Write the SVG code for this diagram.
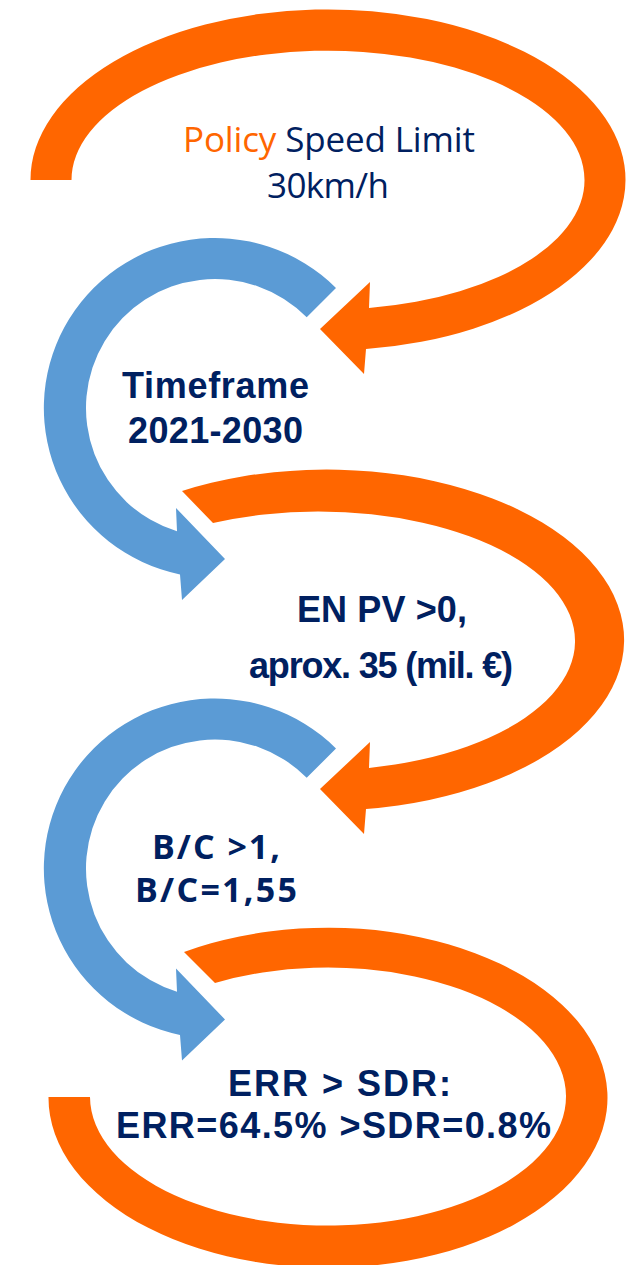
<svg xmlns="http://www.w3.org/2000/svg" width="631" height="1265" viewBox="0 0 631 1265">
<style>
.or{fill:#FF6600}
.bl{fill:#5B9BD5}
.t{fill:#002060}
.reg{font-family:"Open Sans","Noto Sans",sans-serif;font-size:35px}
.bold{font-family:"Liberation Sans",Arial,sans-serif;font-weight:bold;font-size:36px}
.semi{font-family:"Open Sans","Noto Sans",sans-serif;font-weight:bold;font-size:34px}
</style>
<rect width="631" height="1265" fill="#ffffff"/>
<g id="connectors">
<path id="arrow-policy" class="or" d="M 30.5 180 A 297.5 170.5 0 1 1 366 349 L 364 374 L 320 329 L 370 282 L 369 308 A 256.5 129.5 0 1 0 71.5 180 Z"/>
<path id="arrow-timeframe" class="bl" d="M 336 288 A 171 170 0 1 0 180 574.4 L 182 600 L 225 559 L 176 508 L 177 531.3 A 129 129 0 1 1 306.7 317.3 Z"/>
<path id="arrow-enpv" class="or" d="M 182 491 A 297.5 170.5 0 1 1 366 809 L 364 834 L 320 789 L 370 742 L 369 768 A 256.5 129.5 0 1 0 213 523 Z"/>
<path id="arrow-bc" class="bl" transform="translate(0,460.5)" d="M 336 288 A 171 170 0 1 0 180 574.4 L 182 600 L 225 559 L 176 508 L 177 531.3 A 129 129 0 1 1 306.7 317.3 Z"/>
<path id="arrow-err" class="or" d="M 184 952 A 279.5 170 0 1 1 48.5 1097 L 90 1097 A 238 129 0 1 0 215 983 Z"/>
</g>
<g id="node-policy">
<text class="reg t" x="183" y="152" textLength="292"><tspan class="or">Policy</tspan> Speed Limit</text>
<text class="reg t" x="267" y="198" textLength="122">30km/h</text>
</g>
<g id="node-timeframe">
<text class="bold t" x="122" y="398" textLength="187">Timeframe</text>
<text class="bold t" x="128" y="443" textLength="175">2021-2030</text>
</g>
<g id="node-enpv">
<text class="bold t" x="297" y="622" textLength="170">EN PV &gt;0,</text>
<text class="bold t" x="249" y="678" textLength="264">aprox. 35 (mil. €)</text>
</g>
<g id="node-bc">
<text class="semi t" x="152" y="859" textLength="128">B/C &gt;1,</text>
<text class="semi t" x="135" y="902" textLength="162">B/C=1,55</text>
</g>
<g id="node-err">
<text class="bold t" x="228" y="1096" textLength="223">ERR &gt; SDR:</text>
<text class="bold t" x="116" y="1138" textLength="435">ERR=64.5% &gt;SDR=0.8%</text>
</g>
</svg>
